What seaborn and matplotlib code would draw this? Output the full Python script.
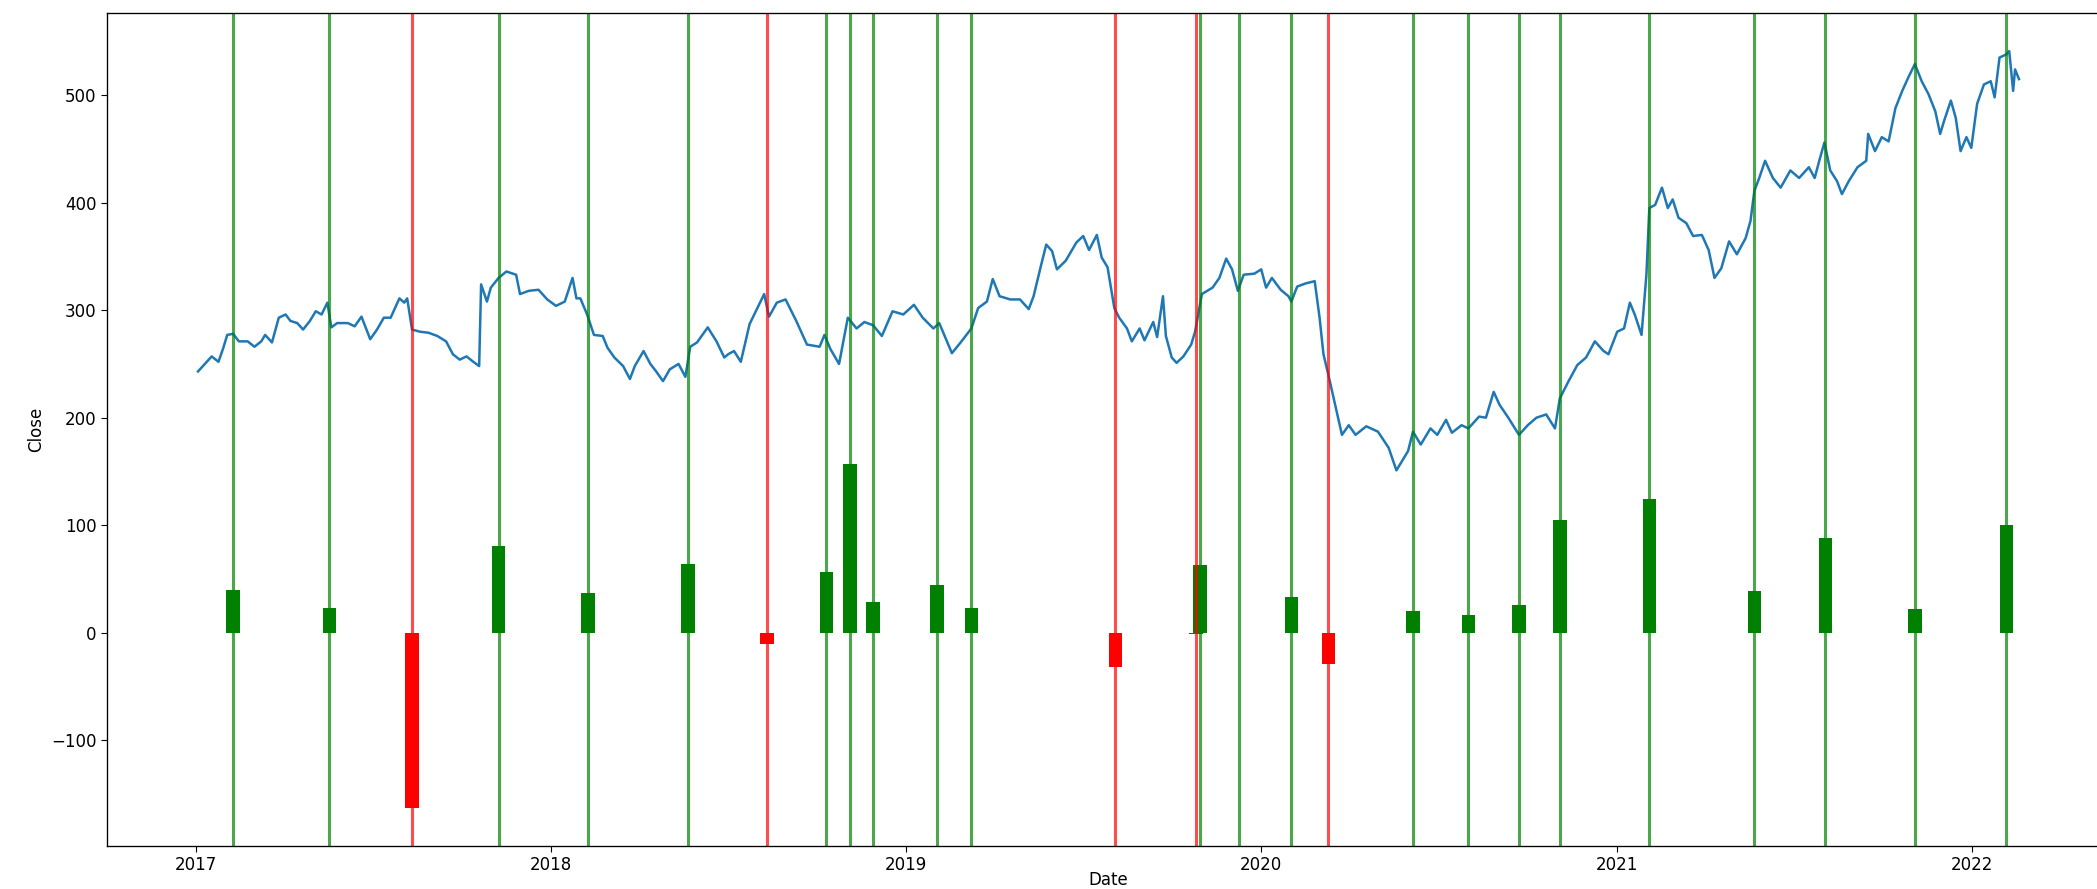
import numpy as np
import pandas as pd
import matplotlib
matplotlib.use("Agg")
import matplotlib.pyplot as plt
import seaborn as sns

# -----------------------------
# Data
# -----------------------------
# Close price: days since 2017-01-01 and value
close_day = [
    2, 7, 16, 23, 28, 32, 38, 44, 53, 60, 67, 71, 78, 85, 92, 97, 104, 110, 117, 123,
    129, 135, 139, 145, 156, 163, 170, 179, 186, 193, 200, 209, 214, 217, 222, 230, 239, 248, 257, 264,
    271, 278, 285, 291, 293, 299, 303, 311, 319, 329, 333, 342, 352, 361, 370, 379, 387, 391, 395, 402,
    409, 418, 423, 430, 439, 446, 451, 460, 467, 473, 480, 487, 496, 503, 508, 515, 526, 535, 543, 547,
    553, 560, 569, 584, 589, 597, 606, 617, 628, 641, 646, 652, 661, 670, 679, 687, 696, 705, 716, 727,
    738, 747, 758, 764, 777, 786, 797, 804, 813, 819, 826, 837, 847, 856, 861, 869, 874, 880, 885, 894,
    905, 912, 918, 926, 931, 937, 944, 949, 957, 962, 970, 975, 984, 988, 994, 997, 1003, 1008, 1015, 1023,
    1027, 1034, 1045, 1052, 1059, 1065, 1071, 1077, 1088, 1095, 1100, 1106, 1115, 1123, 1126, 1132, 1141, 1150, 1155, 1159,
    1164, 1171, 1178, 1185, 1192, 1203, 1215, 1226, 1234, 1240, 1246, 1251, 1259, 1269, 1276, 1285, 1291, 1301, 1308, 1319,
    1326, 1334, 1340, 1349, 1360, 1369, 1378, 1388, 1397, 1402, 1411, 1420, 1429, 1438, 1447, 1452, 1461, 1468, 1474, 1479,
    1486, 1491, 1494, 1500, 1507, 1513, 1518, 1524, 1532, 1539, 1548, 1555, 1561, 1568, 1576, 1584, 1593, 1598, 1602, 1607,
    1613, 1621, 1629, 1639, 1648, 1658, 1664, 1669, 1674, 1680, 1687, 1692, 1699, 1708, 1717, 1719, 1726, 1733, 1740, 1747,
    1754, 1760, 1767, 1774, 1781, 1788, 1793, 1797, 1804, 1809, 1814, 1820, 1825, 1831, 1838, 1845, 1849, 1854, 1861, 1864,
    1868, 1870, 1874,
]
close_val = [
    243, 248, 257, 252, 265, 277, 278, 271, 271, 266, 271, 277, 270, 293, 296, 290, 288, 282, 290, 299,
    296, 307, 284, 288, 288, 285, 294, 273, 282, 293, 293, 311, 307, 311, 282, 280, 279, 276, 271, 259,
    254, 257, 252, 248, 324, 308, 321, 330, 336, 333, 315, 318, 319, 310, 304, 308, 330, 311, 311, 296,
    277, 276, 265, 256, 248, 236, 248, 262, 250, 243, 234, 245, 250, 238, 266, 270, 284, 271, 256, 259,
    262, 252, 287, 315, 294, 307, 310, 290, 268, 266, 277, 264, 250, 293, 283, 289, 286, 276, 299, 296,
    305, 293, 283, 288, 260, 270, 283, 302, 308, 329, 313, 310, 310, 301, 313, 343, 361, 355, 338, 346,
    363, 369, 356, 370, 349, 340, 302, 293, 283, 271, 283, 272, 289, 275, 313, 276, 256, 251, 257, 268,
    280, 315, 321, 330, 348, 338, 318, 333, 334, 338, 321, 330, 319, 313, 308, 322, 325, 327, 293, 259,
    240, 212, 184, 193, 184, 192, 187, 172, 151, 160, 169, 187, 175, 190, 184, 198, 186, 193, 190, 201,
    200, 224, 212, 200, 184, 193, 200, 203, 190, 218, 234, 249, 256, 271, 262, 259, 280, 283, 307, 296,
    277, 333, 395, 398, 414, 395, 403, 386, 381, 369, 370, 356, 330, 339, 364, 352, 367, 383, 411, 423,
    439, 423, 414, 430, 423, 433, 423, 440, 456, 430, 420, 408, 420, 433, 439, 464, 448, 461, 457, 488,
    504, 516, 529, 513, 501, 485, 464, 476, 495, 479, 448, 461, 451, 492, 510, 513, 498, 535, 538, 541,
    504, 524, 515,
]

# Closed trades: exit date and profit
trade_dates = [
    "2017-02-08", "2017-05-18", "2017-08-11", "2017-11-08", "2018-02-08", "2018-05-22",
    "2018-08-11", "2018-10-11", "2018-11-04", "2018-11-28", "2019-02-02", "2019-03-09",
    "2019-08-04", "2019-10-26", "2019-10-30", "2019-12-09", "2020-02-01", "2020-03-10",
    "2020-06-05", "2020-08-01", "2020-09-22", "2020-11-03", "2021-02-03", "2021-05-22",
    "2021-08-03", "2021-11-03", "2022-02-05",
]
trade_profit = [
    40, 23, -163, 81, 37, 64,
    -10.5, 56, 157, 28.6, 44, 23,
    -32, -1.5, 63, 0, 33, -29,
    20, 16, 26, 105, 124, 39,
    88, 22, 100,
]

# -----------------------------
# Plot
# -----------------------------
def main():
    plt.rcParams["font.size"] = 12
    plt.rcParams["xtick.major.size"] = 4.2
    plt.rcParams["ytick.major.size"] = 4.2
    plt.rcParams["axes.linewidth"] = 0.96

    df = pd.DataFrame({
        "Date": pd.Timestamp("2017-01-01") + pd.to_timedelta(close_day, unit="D"),
        "Close": close_val,
    })
    trades = pd.DataFrame({
        "Date": pd.to_datetime(trade_dates),
        "Profit": trade_profit,
    })
    trades["color"] = np.where(trades["Profit"] >= 0, "green", "red")

    fig = plt.figure(figsize=(20.97, 8.89), dpi=100)
    ax = fig.add_axes([107 / 2097, 43.3 / 889, 2003 / 2097, 832.4 / 889])

    sns.lineplot(data=df, x="Date", y="Close", ax=ax, linewidth=1.8)

    ax.bar(trades["Date"], trades["Profit"], width=14, color=trades["color"])
    for d, c in zip(trades["Date"], trades["color"]):
        ax.axvline(d, color=c, alpha=0.7, linewidth=2.2)

    # the original screenshot is cropped just under the x label
    ax.set_xlabel("Date", fontsize=12, labelpad=-2.5)
    ax.set_ylabel("Close", fontsize=12)

    fig.savefig("out.png", dpi=100)
    plt.close(fig)


if __name__ == "__main__":
    main()
